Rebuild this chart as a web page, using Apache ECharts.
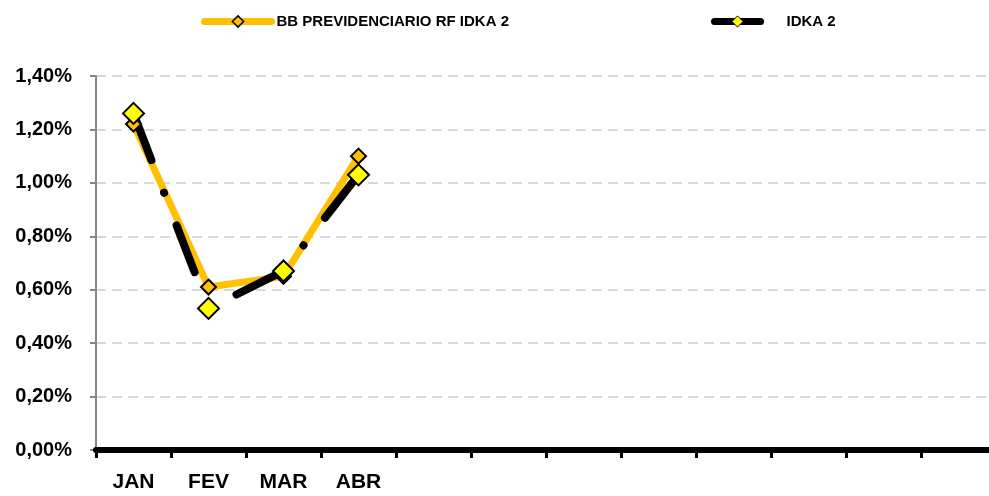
<!DOCTYPE html>
<html>
<head>
<meta charset="utf-8">
<script src="https://cdn.jsdelivr.net/npm/echarts@6/dist/echarts.min.js"></script>
<style>html,body{margin:0;padding:0;background:#fff}#c{width:989px;height:496px}</style>
</head>
<body>
<div id="c"></div>
<script>
const categories = ['JAN','FEV','MAR','ABR','','','','','','','',''];
const bbValues = [1.22, 0.61, 0.65, 1.10];
const idkaValues = [1.26, 0.53, 0.67, 1.03];
const yTicks = { min: 0, max: 1.4, interval: 0.2 };
const seriesNames = ['BB PREVIDENCIARIO RF IDKA 2', 'IDKA 2'];

const FONT = '"Liberation Sans", Arial, sans-serif';
const chart = echarts.init(document.getElementById('c'), null, {renderer: 'canvas'});
chart.setOption({
  animation: false,
  backgroundColor: '#fff',
  grid: { left: 96, top: 76, right: -7, height: 374, containLabel: false, outerBoundsMode: 'none' },
  legend: [
    {
      left: 201, top: 14, padding: 0, itemWidth: 67, itemHeight: 14,
      textStyle: { fontFamily: FONT, fontWeight: 'bold', fontSize: 15, color: '#000' },
      data: [{ name: seriesNames[0],
        lineStyle: { width: 7, type: 'solid', cap: 'round', color: '#FFC000' },
        itemStyle: { color: '#FFC000', borderColor: '#000', borderWidth: 1.5 } }]
    },
    {
      left: 711, top: 14, padding: 0, itemWidth: 46, itemHeight: 14,
      textStyle: { fontFamily: FONT, fontWeight: 'bold', fontSize: 15, color: '#000', padding: [0,0,0,21] },
      data: [{ name: seriesNames[1],
        lineStyle: { width: 7, type: 'solid', cap: 'round', color: '#000' },
        itemStyle: { color: '#FFFF00', borderColor: '#000', borderWidth: 1 } }]
    }
  ],
  xAxis: {
    type: 'category',
    data: categories,
    boundaryGap: true,
    axisLine: { show: true, lineStyle: { color: '#000', width: 6 } },
    axisTick: { show: true, interval: 0, length: 8, lineStyle: { color: '#000', width: 3 } },
    axisLabel: { interval: 0, margin: 22, fontFamily: FONT, fontWeight: 'bold', fontSize: 21, color: '#000' },
    splitLine: { show: false },
    z: 3
  },
  yAxis: {
    type: 'value',
    min: yTicks.min, max: yTicks.max, interval: yTicks.interval,
    axisLine: { show: true, lineStyle: { color: '#868686', width: 2 } },
    axisTick: { show: true, length: 6, lineStyle: { color: '#868686', width: 2 } },
    axisLabel: { margin: 24, fontFamily: FONT, fontWeight: 'bold', fontSize: 20, color: '#000',
      formatter: v => v.toFixed(2).replace('.', ',') + '%' },
    splitLine: { show: true, lineStyle: { color: '#D9D9D9', width: 2, type: [10, 6] } }
  },
  series: [
    {
      name: seriesNames[0], type: 'line', data: bbValues,
      symbol: 'diamond', symbolSize: 15,
      lineStyle: { color: '#FFC000', width: 7, cap: 'round', join: 'round' },
      itemStyle: { color: '#FFC000', borderColor: '#000', borderWidth: 2 },
      z: 2
    },
    {
      name: seriesNames[1], type: 'line', data: idkaValues,
      symbol: 'diamond', symbolSize: 21,
      lineStyle: { color: '#000', width: 8, cap: 'round', join: 'round', type: [50, 35, 0.1, 35] },
      itemStyle: { color: '#FFFF00', borderColor: '#000', borderWidth: 2 },
      z: 2
    }
  ]
});
</script>
</body>
</html>
